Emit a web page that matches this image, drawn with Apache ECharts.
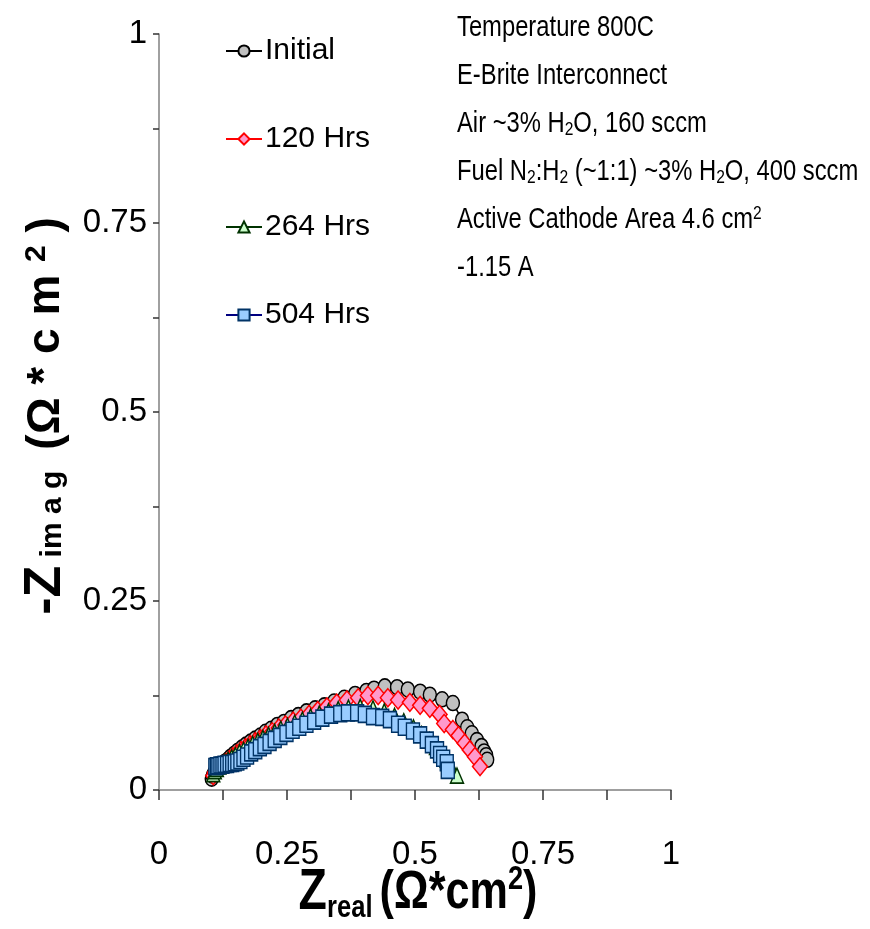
<!DOCTYPE html>
<html>
<head>
<meta charset="utf-8">
<script src="https://cdn.jsdelivr.net/npm/echarts@6/dist/echarts.min.js"></script>
<style>html,body{margin:0;padding:0;background:#fff}#c{width:870px;height:929px}</style>
</head>
<body>
<div id="c"></div>
<script>
var seriesNames = ['Initial', '120 Hrs', '264 Hrs', '504 Hrs'];
var xTicks = [0, 0.25, 0.5, 0.75, 1];
var yTicks = [0, 0.25, 0.5, 0.75, 1];

var initialPts = [[0.103,0.015],[0.105,0.019],[0.108,0.023],[0.112,0.027],[0.117,0.031],[0.122,0.034],[0.128,0.037],[0.134,0.040],[0.140,0.044],[0.147,0.048],[0.154,0.052],[0.162,0.056],[0.170,0.060],[0.179,0.064],[0.188,0.068],[0.198,0.072],[0.208,0.077],[0.219,0.081],[0.231,0.086],[0.244,0.090],[0.258,0.095],[0.272,0.099],[0.288,0.104],[0.305,0.108],[0.323,0.112],[0.342,0.117],[0.362,0.122],[0.383,0.127],[0.405,0.131],[0.420,0.134],[0.441,0.137],[0.465,0.136],[0.486,0.133],[0.510,0.130],[0.529,0.126],[0.553,0.120],[0.574,0.115],[0.592,0.093],[0.602,0.083],[0.611,0.075],[0.621,0.066],[0.630,0.058],[0.635,0.051],[0.639,0.046],[0.641,0.040]];

var hrs120Pts = [[0.106,0.019],[0.109,0.023],[0.113,0.027],[0.118,0.030],[0.124,0.033],[0.130,0.036],[0.137,0.040],[0.144,0.044],[0.152,0.048],[0.160,0.052],[0.169,0.056],[0.178,0.060],[0.188,0.064],[0.198,0.068],[0.209,0.073],[0.221,0.077],[0.234,0.082],[0.247,0.086],[0.262,0.091],[0.277,0.095],[0.293,0.100],[0.310,0.105],[0.328,0.110],[0.347,0.115],[0.367,0.119],[0.389,0.122],[0.408,0.125],[0.428,0.125],[0.447,0.122],[0.467,0.119],[0.490,0.116],[0.510,0.112],[0.529,0.108],[0.548,0.100],[0.557,0.088],[0.574,0.080],[0.585,0.072],[0.597,0.062],[0.607,0.053],[0.617,0.044],[0.627,0.031]];

var hrs264Pts = [[0.106,0.021],[0.109,0.025],[0.113,0.028],[0.118,0.031],[0.123,0.034],[0.129,0.037],[0.135,0.040],[0.142,0.043],[0.149,0.046],[0.157,0.050],[0.165,0.053],[0.174,0.057],[0.183,0.061],[0.193,0.065],[0.203,0.069],[0.214,0.073],[0.226,0.077],[0.238,0.081],[0.251,0.085],[0.265,0.089],[0.280,0.093],[0.296,0.097],[0.313,0.101],[0.331,0.104],[0.350,0.107],[0.370,0.109],[0.393,0.110],[0.418,0.108],[0.440,0.104],[0.460,0.098],[0.478,0.091],[0.497,0.083],[0.513,0.074],[0.528,0.066],[0.541,0.057],[0.552,0.048],[0.562,0.040],[0.570,0.032],[0.582,0.019]];

var hrs504Pts = [[0.110,0.031],[0.113,0.032],[0.116,0.032],[0.120,0.033],[0.124,0.033],[0.128,0.034],[0.133,0.034],[0.138,0.035],[0.143,0.035],[0.148,0.036],[0.153,0.037],[0.159,0.039],[0.165,0.042],[0.172,0.045],[0.180,0.049],[0.188,0.052],[0.197,0.056],[0.206,0.059],[0.216,0.063],[0.226,0.067],[0.237,0.071],[0.249,0.075],[0.261,0.079],[0.274,0.083],[0.288,0.087],[0.303,0.091],[0.319,0.095],[0.336,0.099],[0.354,0.101],[0.369,0.102],[0.387,0.102],[0.402,0.100],[0.418,0.097],[0.436,0.096],[0.451,0.093],[0.467,0.087],[0.480,0.083],[0.496,0.078],[0.510,0.073],[0.523,0.066],[0.533,0.060],[0.543,0.053],[0.549,0.047],[0.555,0.042],[0.562,0.036],[0.564,0.026]];

var annotationLines = [
  'Temperature 800C',
  'E-Brite Interconnect',
  'Air ~3% H{sub|2}O, 160 sccm',
  'Fuel N{sub|2}:H{sub|2} (~1:1) ~3% H{sub|2}O, 400 sccm',
  'Active Cathode Area 4.6 cm{sup|2}',
  '-1.15 A'
];

var SANS = "'Liberation Sans','Arial',sans-serif";

function tickFmt(ticks) {
  return function (v) {
    for (var i = 0; i < ticks.length; i++) {
      if (Math.abs(ticks[i] - v) < 1e-9) return String(ticks[i]);
    }
    return '';
  };
}

var chart = echarts.init(document.getElementById('c'), null, {renderer: 'canvas'});

function mkSeries(name, pts, symbol, size, fill, border, lineColor) {
  return {
    name: name, type: 'line', data: pts, symbol: symbol, symbolSize: size,
    showAllSymbol: true, animation: false,
    lineStyle: {color: lineColor, width: 1.5},
    itemStyle: {color: fill, borderColor: border, borderWidth: 1.5}
  };
}

var graphics = [];
annotationLines.forEach(function (t, i) {
  graphics.push({
    type: 'text', x: 457, y: 28 + i * 48, scaleX: 0.82, originX: 0,
    style: {
      text: t, fill: '#000', fontSize: 29, fontFamily: SANS,
      verticalAlign: 'middle', align: 'left',
      rich: {
        sub: {fontSize: 19, fontFamily: SANS, verticalAlign: 'bottom', padding: [12, 0, 0, 0]},
        sup: {fontSize: 19, fontFamily: SANS, verticalAlign: 'top', padding: [0, 0, 12, 0]}
      }
    }
  });
});

// y-axis title (rotated)
graphics.push({
  type: 'text', x: 46, y: 416, rotation: Math.PI / 2,
  style: {
    text: '{a|-Z}{b| im a g }{c| (Ω * c m }{d|2}{c| )}',
    align: 'center', verticalAlign: 'middle', fill: '#000',
    rich: {
      a: {fontSize: 52, fontWeight: 'bold', fontFamily: SANS},
      b: {fontSize: 30, fontWeight: 'bold', fontFamily: SANS, padding: [14, 0, 0, 0]},
      c: {fontSize: 46, fontWeight: 'bold', fontFamily: SANS},
      d: {fontSize: 30, fontWeight: 'bold', fontFamily: SANS, padding: [0, 0, 18, 0]}
    }
  }
});

// x-axis title
graphics.push({
  type: 'text', x: 418, y: 893, scaleX: 0.8, originX: 0,
  style: {
    text: '{a|Z}{b|real }{c|(Ω*cm}{d|2}{c|)}',
    align: 'center', verticalAlign: 'middle', fill: '#000',
    rich: {
      a: {fontSize: 58, fontWeight: 'bold', fontFamily: SANS},
      b: {fontSize: 32, fontWeight: 'bold', fontFamily: SANS, padding: [30, 0, 0, 0]},
      c: {fontSize: 54, fontWeight: 'bold', fontFamily: SANS},
      d: {fontSize: 34, fontWeight: 'bold', fontFamily: SANS, padding: [0, 0, 26, 0]}
    }
  }
});

chart.setOption({
  animation: false,
  backgroundColor: '#fff',
  grid: {left: 159, right: 199, top: 34, bottom: 139, containLabel: false},
  legend: {
    orient: 'vertical', left: 220, top: 31, itemGap: 58,
    itemWidth: 36, itemHeight: 14,
    data: seriesNames,
    textStyle: {fontSize: 30, fontFamily: SANS, color: '#000', padding: [0, 0, 0, -2]}
  },
  xAxis: {
    type: 'value', min: 0, max: 1, interval: 0.125,
    axisLine: {onZero: false, lineStyle: {color: '#808080', width: 1.5}},
    axisTick: {length: 10, lineStyle: {color: '#333', width: 1.5}},
    splitLine: {show: false},
    axisLabel: {formatter: tickFmt(xTicks), fontSize: 33, fontFamily: SANS, color: '#000', margin: 48, showMinLabel: true, showMaxLabel: true, hideOverlap: false}
  },
  yAxis: {
    type: 'value', min: 0, max: 1, interval: 0.125,
    axisLine: {show: true, onZero: false, lineStyle: {color: '#808080', width: 1.5}},
    axisTick: {show: true, length: 6, lineStyle: {color: '#333', width: 1.5}},
    splitLine: {show: false},
    axisLabel: {formatter: tickFmt(yTicks), fontSize: 33, fontFamily: SANS, color: '#000', margin: 12, hideOverlap: false}
  },
  graphic: graphics,
  series: [
    mkSeries(seriesNames[0], initialPts, 'circle', [13, 15], '#c0c0c0', '#000000', '#000000'),
    mkSeries(seriesNames[1], hrs120Pts, 'diamond', [15, 18], '#ff99cc', '#ff0000', '#ff0000'),
    mkSeries(seriesNames[2], hrs264Pts, 'triangle', [13, 15], '#ccffcc', '#003300', '#003300'),
    mkSeries(seriesNames[3], hrs504Pts, 'rect', [13, 16], '#99ccff', '#003366', '#000080')
  ]
});
</script>
</body>
</html>
